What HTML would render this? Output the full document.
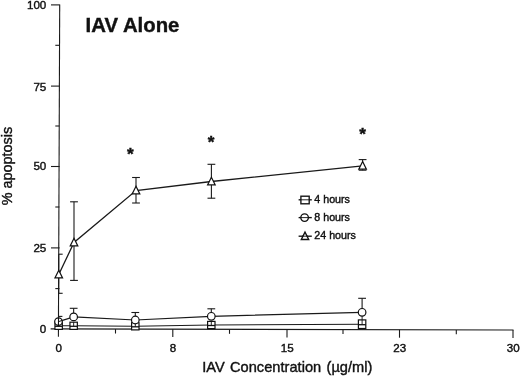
<!DOCTYPE html><html><head><meta charset="utf-8"><title>IAV Alone</title>
<style>html,body{margin:0;padding:0;background:#fff}body{width:520px;height:376px;overflow:hidden}svg{display:block}text{font-family:"Liberation Sans",Arial,sans-serif;fill:#111;stroke:#111;stroke-width:0.4px}</style></head><body>
<svg width="520" height="376" viewBox="0 0 520 376">
<rect width="520" height="376" fill="#fff"/>
<g stroke="#1a1a1a" stroke-width="1.1" fill="none" stroke-linecap="butt">
<line x1="59.7" y1="4.4" x2="58.4" y2="336.8"/>
<line x1="50.6" y1="328.9" x2="513.5" y2="330.0"/>
<line x1="51" y1="4.9" x2="59.6" y2="4.9"/>
<line x1="51" y1="86.1" x2="59.6" y2="86.1"/>
<line x1="51" y1="166.5" x2="59.6" y2="166.5"/>
<line x1="51" y1="247.9" x2="59.6" y2="247.9"/>
<line x1="55.3" y1="45.3" x2="59.4" y2="45.3"/>
<line x1="55.3" y1="126.0" x2="59.4" y2="126.0"/>
<line x1="55.3" y1="207.0" x2="59.4" y2="207.0"/>
<line x1="55.3" y1="288.6" x2="59.4" y2="288.6"/>
<line x1="172.8" y1="329.2775384615385" x2="172.8" y2="337.10276923076924"/>
<line x1="287.0" y1="329.5536263736264" x2="287.0" y2="337.40395604395604"/>
<line x1="399.5" y1="329.8256043956044" x2="399.5" y2="337.70065934065934"/>
<line x1="513.0" y1="330.1" x2="513.0" y2="338.0"/>
<line x1="115.5" y1="329.139010989011" x2="115.5" y2="333.539010989011"/>
<line x1="229.5" y1="329.4146153846154" x2="229.5" y2="333.81461538461537"/>
<line x1="343.0" y1="329.68901098901097" x2="343.0" y2="334.08901098901094"/>
<line x1="456.3" y1="329.96292307692306" x2="456.3" y2="334.36292307692304"/>
</g>
<g stroke="#1a1a1a" stroke-width="1.1" fill="none">
<line x1="58.75" y1="254.2" x2="58.75" y2="293.3"/>
<line x1="58.75" y1="254.2" x2="62.65" y2="254.2"/>
<line x1="58.75" y1="293.3" x2="62.65" y2="293.3"/>
<line x1="74.0" y1="201.8" x2="74.0" y2="280.4"/>
<line x1="70.1" y1="201.8" x2="77.9" y2="201.8"/>
<line x1="70.1" y1="280.4" x2="77.9" y2="280.4"/>
<line x1="136.0" y1="177.5" x2="136.0" y2="203.0"/>
<line x1="132.1" y1="177.5" x2="139.9" y2="177.5"/>
<line x1="132.1" y1="203.0" x2="139.9" y2="203.0"/>
<line x1="211.4" y1="164.3" x2="211.4" y2="198.2"/>
<line x1="207.5" y1="164.3" x2="215.3" y2="164.3"/>
<line x1="207.5" y1="198.2" x2="215.3" y2="198.2"/>
<line x1="362.6" y1="159.6" x2="362.6" y2="170.2"/>
<line x1="358.70000000000005" y1="159.6" x2="366.5" y2="159.6"/>
<line x1="358.70000000000005" y1="170.2" x2="366.5" y2="170.2"/>
<line x1="58.5" y1="316.4" x2="58.5" y2="321.6"/>
<line x1="58.5" y1="316.4" x2="62.4" y2="316.4"/>
<line x1="73.65" y1="308.3" x2="73.65" y2="316.9"/>
<line x1="69.75" y1="308.3" x2="77.55000000000001" y2="308.3"/>
<line x1="135.3" y1="312.5" x2="135.3" y2="320.0"/>
<line x1="131.4" y1="312.5" x2="139.20000000000002" y2="312.5"/>
<line x1="211.3" y1="308.8" x2="211.3" y2="316.3"/>
<line x1="207.4" y1="308.8" x2="215.20000000000002" y2="308.8"/>
<line x1="362.1" y1="298.3" x2="362.1" y2="312.3"/>
<line x1="358.20000000000005" y1="298.3" x2="366.0" y2="298.3"/>
<polyline stroke-width="1.3" points="58.75,274.5 74.0,242.5 136.0,190.5 211.4,181.5 362.6,165.8"/>
<polyline stroke-width="1.2" points="58.5,321.6 73.65,316.9 135.3,320.0 211.3,316.3 362.1,312.3"/>
<polyline points="58.65,325.8 73.65,325.8 135.3,326.3 211.3,325.0 362.1,324.2"/>
</g>
<g stroke="#111" stroke-width="1.2" fill="#fff">
<line x1="362.1" y1="315" x2="362.1" y2="320.5" stroke-width="0.9"/>
<rect x="54.949999999999996" y="322.2" width="7.4" height="7.2"/>
<line x1="54.949999999999996" y1="326.3" x2="62.35" y2="326.3" stroke-width="1.3"/>
<line x1="58.65" y1="322.2" x2="58.65" y2="326.3" stroke-width="0.9"/>
<rect x="69.95" y="322.2" width="7.4" height="7.2"/>
<line x1="69.95" y1="326.3" x2="77.35000000000001" y2="326.3" stroke-width="1.3"/>
<line x1="73.65" y1="322.2" x2="73.65" y2="326.3" stroke-width="0.9"/>
<rect x="131.60000000000002" y="322.7" width="7.4" height="7.2"/>
<line x1="131.60000000000002" y1="326.8" x2="139.0" y2="326.8" stroke-width="1.3"/>
<line x1="135.3" y1="322.7" x2="135.3" y2="326.8" stroke-width="0.9"/>
<rect x="207.60000000000002" y="321.4" width="7.4" height="7.2"/>
<line x1="207.60000000000002" y1="325.5" x2="215.0" y2="325.5" stroke-width="1.3"/>
<line x1="211.3" y1="321.4" x2="211.3" y2="325.5" stroke-width="0.9"/>
<rect x="358.40000000000003" y="319.9" width="7.4" height="8.6"/>
<line x1="358.40000000000003" y1="324.7" x2="365.8" y2="324.7" stroke-width="1.3"/>
<line x1="362.1" y1="319.9" x2="362.1" y2="324.7" stroke-width="0.9"/>
<circle cx="58.5" cy="321.6" r="3.8"/>
<line x1="58.5" y1="317.8" x2="58.45" y2="325.40000000000003" stroke-width="1.1"/>
<line x1="58.5" y1="321.6" x2="62.1" y2="320.5" stroke-width="1"/>
<circle cx="73.65" cy="316.9" r="3.8"/>
<circle cx="135.3" cy="320.0" r="3.8"/>
<circle cx="211.3" cy="316.3" r="3.8"/>
<circle cx="362.1" cy="312.3" r="3.8"/>
<polygon points="58.75,270.3 62.55,277.9 54.95,277.9"/>
<polygon points="74.0,238.3 77.8,245.9 70.2,245.9"/>
<polygon points="136.0,186.3 139.8,193.9 132.2,193.9"/>
<polygon points="211.4,177.3 215.20000000000002,184.9 207.6,184.9"/>
<polygon points="362.6,161.60000000000002 366.40000000000003,169.20000000000002 358.8,169.20000000000002"/>
</g>
<g stroke="#111" stroke-width="1.35" fill="#fff">
<line x1="298.6" y1="199.8" x2="311.8" y2="199.8"/><rect x="300.9" y="196.2" width="8.3" height="7.6"/><line x1="300.9" y1="199.8" x2="309.2" y2="199.8" stroke-width="0.9"/>
<line x1="298.6" y1="217.6" x2="311.8" y2="217.6"/><circle cx="304.6" cy="217.6" r="3.8"/><line x1="300.8" y1="217.6" x2="308.4" y2="217.6" stroke-width="0.9"/>
<line x1="298.6" y1="236.2" x2="311.8" y2="236.2"/><polygon points="305,232.1 308.7,239.5 301.3,239.5"/><line x1="302" y1="236.2" x2="307.6" y2="236.2" stroke-width="0.9"/>
</g>
<g font-size="10.7px">
<text x="314.3" y="203.2">4 hours</text><text x="314.3" y="221.0">8 hours</text><text x="314.3" y="239.0">24 hours</text>
</g>
<g font-size="11.6px" text-anchor="end">
<text x="46.3" y="9.4">100</text>
<text x="46.3" y="90.6">75</text>
<text x="46.3" y="170.4">50</text>
<text x="46.3" y="251.7">25</text>
<text x="46.3" y="332.7">0</text>
</g>
<g font-size="11.6px" text-anchor="middle">
<text x="58.7" y="351.5">0</text>
<text x="173.0" y="351.8">8</text>
<text x="287.2" y="351.8">15</text>
<text x="399.7" y="352.0">23</text>
<text x="513.2" y="352.4">30</text>
</g>
<text x="287.3" y="371.9" font-size="14.6px" letter-spacing="0.03px" word-spacing="1.2px" text-anchor="middle">IAV Concentration (µg/ml)</text>
<text transform="translate(12.4,166) rotate(-90)" font-size="14.4px" text-anchor="middle">% apoptosis</text>
<text transform="translate(85.6,32.4) scale(0.983,1.015)" font-size="20.7px" font-weight="bold" stroke="none">IAV Alone</text>
<g font-size="17.2px" font-weight="bold" text-anchor="middle" stroke="none">
<text x="130.3" y="160.10000000000002">*</text>
<text x="211.0" y="147.9">*</text>
<text x="362.6" y="140.0">*</text>
</g>
</svg></body></html>
